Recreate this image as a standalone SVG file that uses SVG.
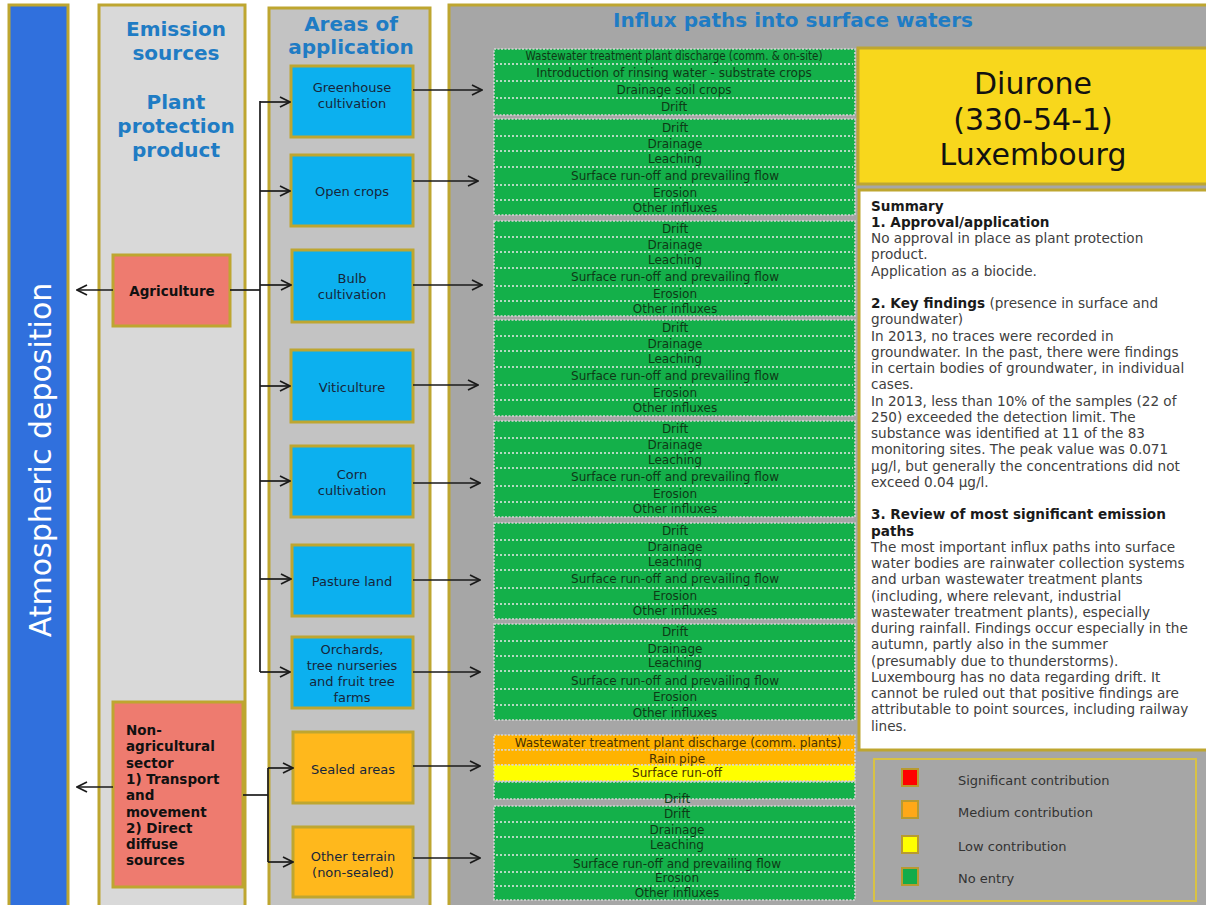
<svg xmlns="http://www.w3.org/2000/svg" width="1206" height="905" viewBox="0 0 1206 905">
<defs>
<style>
.olive{stroke:#bea630;stroke-width:3}
.title{font-family:"DejaVu Sans",Verdana,sans-serif;font-weight:bold;font-size:20px;fill:#1f7cc4;text-anchor:middle}
.boxt{font-family:"DejaVu Sans",Verdana,sans-serif;font-size:13px;fill:#17263a;text-anchor:middle}
.srct{font-family:"DejaVu Sans",Verdana,sans-serif;font-size:13.5px;font-weight:bold;fill:#111}
.blue{fill:#0cb0ef}
.orng{fill:#ffb81c}
.grp{fill:#14b04a;stroke:#d6d6d6;stroke-width:1.6;stroke-dasharray:2 1.5}
.grpo{fill:#ffb300;stroke:#d6d6d6;stroke-width:1.6;stroke-dasharray:2 1.5}
.grpy{fill:#ffff00;stroke:#d6d6d6;stroke-width:1.6;stroke-dasharray:2 1.5}
.sep{stroke:#e8e8e8;stroke-width:1.6;stroke-dasharray:2 2}
.bt{font-family:"DejaVu Sans",Verdana,sans-serif;font-size:12px;fill:#0e3a16;text-anchor:middle}
.bto{font-family:"DejaVu Sans",Verdana,sans-serif;font-size:12px;fill:#4a3200;text-anchor:middle}
.sum{font-family:"DejaVu Sans",Verdana,sans-serif;font-size:13.6px;fill:#404040}
.sum .h{font-weight:bold;fill:#1a1a1a}
.leg{font-family:"DejaVu Sans",Verdana,sans-serif;font-size:13px;fill:#333}
.con{fill:none;stroke:#1a1a1a;stroke-width:1.7}
</style>
<marker id="arr" viewBox="0 0 12 12" refX="11" refY="6" markerWidth="12" markerHeight="12" markerUnits="userSpaceOnUse" orient="auto">
<path d="M1,1 L11,6 L1,11" fill="none" stroke="#1a1a1a" stroke-width="1.7"/>
</marker>
</defs>

<rect x="0" y="0" width="1206" height="905" fill="#ffffff"/>

<g id="atmospheric-deposition">
<rect x="9" y="5" width="59" height="910" fill="#3070dd" class="olive"/>
<text transform="translate(51,460) rotate(-90)" font-family="DejaVu Sans,Verdana,sans-serif" font-size="30" fill="#ffffff" text-anchor="middle">Atmospheric deposition</text>
</g>

<g id="emission-sources">
<rect x="99" y="5" width="146" height="910" fill="#d9d9d9" class="olive"/>
<text class="title" x="176" y="36">Emission</text>
<text class="title" x="176" y="60">sources</text>
<text class="title" x="176" y="109">Plant</text>
<text class="title" x="176" y="133">protection</text>
<text class="title" x="176" y="157">product</text>
</g>

<g id="agriculture">
<rect x="113" y="255" width="117" height="71" fill="#ee7b6f" class="olive"/>
<text class="srct" x="172" y="296" text-anchor="middle" font-size="13px">Agriculture</text>
</g>

<g id="non-agricultural-sector">
<rect x="113" y="702" width="130" height="185" fill="#ee7b6f" class="olive"/>
<text class="srct" x="126" y="735">
<tspan x="126" dy="0">Non-</tspan>
<tspan x="126" dy="16.3">agricultural</tspan>
<tspan x="126" dy="16.3">sector</tspan>
<tspan x="126" dy="16.3">1) Transport</tspan>
<tspan x="126" dy="16.3">and</tspan>
<tspan x="126" dy="16.3">movement</tspan>
<tspan x="126" dy="16.3">2) Direct</tspan>
<tspan x="126" dy="16.3">diffuse</tspan>
<tspan x="126" dy="16.3">sources</tspan>
</text>
</g>

<g id="areas-of-application">
<rect x="269" y="8" width="161" height="907" fill="#c3c3c3" class="olive"/>
<text class="title" x="351" y="31">Areas of</text>
<text class="title" x="351" y="54">application</text>
</g>

<g id="greenhouse-cultivation">
<rect x="291" y="66" width="122" height="71" class="blue olive"/>
<text class="boxt" x="352" y="92">Greenhouse</text>
<text class="boxt" x="352" y="108">cultivation</text>
</g>
<g id="open-crops">
<rect x="291" y="155" width="122" height="71" class="blue olive"/>
<text class="boxt" x="352" y="196">Open crops</text>
</g>
<g id="bulb-cultivation">
<rect x="292" y="250" width="121" height="72" class="blue olive"/>
<text class="boxt" x="352" y="283">Bulb</text>
<text class="boxt" x="352" y="299">cultivation</text>
</g>
<g id="viticulture">
<rect x="291" y="350" width="122" height="72" class="blue olive"/>
<text class="boxt" x="352" y="392">Viticulture</text>
</g>
<g id="corn-cultivation">
<rect x="291" y="446" width="122" height="71" class="blue olive"/>
<text class="boxt" x="352" y="479">Corn</text>
<text class="boxt" x="352" y="495">cultivation</text>
</g>
<g id="pasture-land">
<rect x="292" y="545" width="121" height="71" class="blue olive"/>
<text class="boxt" x="352" y="586">Pasture land</text>
</g>
<g id="orchards">
<rect x="292" y="637" width="121" height="71" class="blue olive"/>
<text class="boxt" x="352" y="654">Orchards,</text>
<text class="boxt" x="352" y="670">tree nurseries</text>
<text class="boxt" x="352" y="686">and fruit tree</text>
<text class="boxt" x="352" y="702">farms</text>
</g>
<g id="sealed-areas">
<rect x="293" y="732" width="120" height="71" class="orng olive"/>
<text class="boxt" x="353" y="774" fill="#3a2a00">Sealed areas</text>
</g>
<g id="other-terrain">
<rect x="293" y="827" width="120" height="70" class="orng olive"/>
<text class="boxt" x="353" y="861">Other terrain</text>
<text class="boxt" x="353" y="877">(non-sealed)</text>
</g>

<g id="influx-paths">
<rect x="449" y="5" width="770" height="910" fill="#a6a6a6" class="olive"/>
<text class="title" x="793" y="27">Influx paths into surface waters</text>
</g>

<g id="paths-greenhouse">
<rect x="494" y="49" width="361" height="66" class="grp"/>
<line x1="496" y1="64" x2="853" y2="64" class="sep"/>
<line x1="496" y1="81" x2="853" y2="81" class="sep"/>
<line x1="496" y1="98" x2="853" y2="98" class="sep"/>
<text class="bt" x="674" y="60" font-size="10.5px" textLength="297" lengthAdjust="spacingAndGlyphs">Wastewater treatment plant discharge (comm. &amp; on-site)</text>
<text class="bt" x="674" y="77">Introduction of rinsing water - substrate crops</text>
<text class="bt" x="674" y="94">Drainage soil crops</text>
<text class="bt" x="674" y="111">Drift</text>
</g>

<g id="paths-open-crops">
<rect x="494" y="119" width="361" height="96" class="grp"/>
<line x1="496" y1="136" x2="853" y2="136" class="sep"/>
<line x1="496" y1="151" x2="853" y2="151" class="sep"/>
<line x1="496" y1="167" x2="853" y2="167" class="sep"/>
<line x1="496" y1="185" x2="853" y2="185" class="sep"/>
<line x1="496" y1="200" x2="853" y2="200" class="sep"/>
<text class="bt" x="675" y="132">Drift</text>
<text class="bt" x="675" y="148">Drainage</text>
<text class="bt" x="675" y="163">Leaching</text>
<text class="bt" x="675" y="180">Surface run-off and prevailing flow</text>
<text class="bt" x="675" y="197">Erosion</text>
<text class="bt" x="675" y="212">Other influxes</text>
</g>

<g id="paths-bulb">
<rect x="494" y="221" width="361" height="95" class="grp"/>
<line x1="496" y1="237" x2="853" y2="237" class="sep"/>
<line x1="496" y1="252" x2="853" y2="252" class="sep"/>
<line x1="496" y1="268" x2="853" y2="268" class="sep"/>
<line x1="496" y1="286" x2="853" y2="286" class="sep"/>
<line x1="496" y1="301" x2="853" y2="301" class="sep"/>
<text class="bt" x="675" y="233">Drift</text>
<text class="bt" x="675" y="249">Drainage</text>
<text class="bt" x="675" y="264">Leaching</text>
<text class="bt" x="675" y="281">Surface run-off and prevailing flow</text>
<text class="bt" x="675" y="298">Erosion</text>
<text class="bt" x="675" y="313">Other influxes</text>
</g>

<g id="paths-viticulture">
<rect x="494" y="320" width="361" height="96" class="grp"/>
<line x1="496" y1="336" x2="853" y2="336" class="sep"/>
<line x1="496" y1="351" x2="853" y2="351" class="sep"/>
<line x1="496" y1="367" x2="853" y2="367" class="sep"/>
<line x1="496" y1="385" x2="853" y2="385" class="sep"/>
<line x1="496" y1="400" x2="853" y2="400" class="sep"/>
<text class="bt" x="675" y="332">Drift</text>
<text class="bt" x="675" y="348">Drainage</text>
<text class="bt" x="675" y="363">Leaching</text>
<text class="bt" x="675" y="380">Surface run-off and prevailing flow</text>
<text class="bt" x="675" y="397">Erosion</text>
<text class="bt" x="675" y="412">Other influxes</text>
</g>

<g id="paths-corn">
<rect x="494" y="421" width="361" height="96" class="grp"/>
<line x1="496" y1="438" x2="853" y2="438" class="sep"/>
<line x1="496" y1="453" x2="853" y2="453" class="sep"/>
<line x1="496" y1="468" x2="853" y2="468" class="sep"/>
<line x1="496" y1="486" x2="853" y2="486" class="sep"/>
<line x1="496" y1="502" x2="853" y2="502" class="sep"/>
<text class="bt" x="675" y="433">Drift</text>
<text class="bt" x="675" y="449">Drainage</text>
<text class="bt" x="675" y="464">Leaching</text>
<text class="bt" x="675" y="481">Surface run-off and prevailing flow</text>
<text class="bt" x="675" y="498">Erosion</text>
<text class="bt" x="675" y="513">Other influxes</text>
</g>

<g id="paths-pasture">
<rect x="494" y="523" width="361" height="96" class="grp"/>
<line x1="496" y1="540" x2="853" y2="540" class="sep"/>
<line x1="496" y1="555" x2="853" y2="555" class="sep"/>
<line x1="496" y1="570" x2="853" y2="570" class="sep"/>
<line x1="496" y1="588" x2="853" y2="588" class="sep"/>
<line x1="496" y1="604" x2="853" y2="604" class="sep"/>
<text class="bt" x="675" y="535">Drift</text>
<text class="bt" x="675" y="551">Drainage</text>
<text class="bt" x="675" y="566">Leaching</text>
<text class="bt" x="675" y="583">Surface run-off and prevailing flow</text>
<text class="bt" x="675" y="600">Erosion</text>
<text class="bt" x="675" y="615">Other influxes</text>
</g>

<g id="paths-orchards">
<rect x="494" y="624" width="361" height="96" class="grp"/>
<line x1="496" y1="641" x2="853" y2="641" class="sep"/>
<line x1="496" y1="656" x2="853" y2="656" class="sep"/>
<line x1="496" y1="671" x2="853" y2="671" class="sep"/>
<line x1="496" y1="689" x2="853" y2="689" class="sep"/>
<line x1="496" y1="705" x2="853" y2="705" class="sep"/>
<text class="bt" x="675" y="636">Drift</text>
<text class="bt" x="675" y="653">Drainage</text>
<text class="bt" x="675" y="667">Leaching</text>
<text class="bt" x="675" y="685">Surface run-off and prevailing flow</text>
<text class="bt" x="675" y="701">Erosion</text>
<text class="bt" x="675" y="717">Other influxes</text>
</g>

<g id="paths-sealed">
<rect x="494" y="735" width="361" height="15" class="grpo"/>
<rect x="494" y="750" width="361" height="15" class="grpo"/>
<rect x="494" y="765" width="361" height="16" class="grpy"/>
<rect x="494" y="782" width="361" height="17" class="grp"/>
<text class="bto" x="678" y="747">Wastewater treatment plant discharge (comm. plants)</text>
<text class="bto" x="677" y="763">Rain pipe</text>
<text class="bto" x="677" y="777">Surface run-off</text>
<text class="bt" x="677" y="803">Drift</text>
</g>

<g id="paths-other-terrain">
<rect x="494" y="806" width="361" height="94" class="grp"/>
<line x1="496" y1="822" x2="853" y2="822" class="sep"/>
<line x1="496" y1="837" x2="853" y2="837" class="sep"/>
<line x1="496" y1="855" x2="853" y2="855" class="sep"/>
<line x1="496" y1="872" x2="853" y2="872" class="sep"/>
<line x1="496" y1="886" x2="853" y2="886" class="sep"/>
<text class="bt" x="677" y="818">Drift</text>
<text class="bt" x="677" y="834">Drainage</text>
<text class="bt" x="677" y="849">Leaching</text>
<text class="bt" x="677" y="868">Surface run-off and prevailing flow</text>
<text class="bt" x="677" y="882">Erosion</text>
<text class="bt" x="677" y="897">Other influxes</text>
</g>

<g id="diurone">
<rect x="858" y="48" width="352" height="136" fill="#f8d71c" class="olive"/>
<text x="1033" y="94" font-family="DejaVu Sans,Verdana,sans-serif" font-size="30" fill="#111" text-anchor="middle">Diurone</text>
<text x="1033" y="130" font-family="DejaVu Sans,Verdana,sans-serif" font-size="30" fill="#111" text-anchor="middle">(330-54-1)</text>
<text x="1033" y="165" font-family="DejaVu Sans,Verdana,sans-serif" font-size="30" fill="#111" text-anchor="middle">Luxembourg</text>
</g>

<g id="summary">
<rect x="859" y="190" width="352" height="560" fill="#ffffff" class="olive"/>
<text class="sum" x="871" y="210.5">
<tspan x="871" dy="0" class="h">Summary</tspan>
<tspan x="871" dy="16.25" class="h">1. Approval/application</tspan>
<tspan x="871" dy="16.25">No approval in place as plant protection</tspan>
<tspan x="871" dy="16.25">product.</tspan>
<tspan x="871" dy="16.25">Application as a biocide.</tspan>
<tspan x="871" dy="32.5" class="h">2. Key findings</tspan><tspan> (presence in surface and</tspan>
<tspan x="871" dy="16.25">groundwater)</tspan>
<tspan x="871" dy="16.25">In 2013, no traces were recorded in</tspan>
<tspan x="871" dy="16.25">groundwater. In the past, there were findings</tspan>
<tspan x="871" dy="16.25">in certain bodies of groundwater, in individual</tspan>
<tspan x="871" dy="16.25">cases.</tspan>
<tspan x="871" dy="16.25">In 2013, less than 10% of the samples (22 of</tspan>
<tspan x="871" dy="16.25">250) exceeded the detection limit. The</tspan>
<tspan x="871" dy="16.25">substance was identified at 11 of the 83</tspan>
<tspan x="871" dy="16.25">monitoring sites. The peak value was 0.071</tspan>
<tspan x="871" dy="16.25">µg/l, but generally the concentrations did not</tspan>
<tspan x="871" dy="16.25">exceed 0.04 µg/l.</tspan>
<tspan x="871" dy="32.5" class="h">3. Review of most significant emission</tspan>
<tspan x="871" dy="16.25" class="h">paths</tspan>
<tspan x="871" dy="16.25">The most important influx paths into surface</tspan>
<tspan x="871" dy="16.25">water bodies are rainwater collection systems</tspan>
<tspan x="871" dy="16.25">and urban wastewater treatment plants</tspan>
<tspan x="871" dy="16.25">(including, where relevant, industrial</tspan>
<tspan x="871" dy="16.25">wastewater treatment plants), especially</tspan>
<tspan x="871" dy="16.25">during rainfall. Findings occur especially in the</tspan>
<tspan x="871" dy="16.25">autumn, partly also in the summer</tspan>
<tspan x="871" dy="16.25">(presumably due to thunderstorms).</tspan>
<tspan x="871" dy="16.25">Luxembourg has no data regarding drift. It</tspan>
<tspan x="871" dy="16.25">cannot be ruled out that positive findings are</tspan>
<tspan x="871" dy="16.25">attributable to point sources, including railway</tspan>
<tspan x="871" dy="16.25">lines.</tspan>
</text>
</g>

<g id="legend">
<rect x="874" y="759" width="322" height="142" fill="none" stroke="#d8c244" stroke-width="2"/>
<rect x="902" y="769" width="16" height="17" fill="#ff0000" stroke="#b89a30" stroke-width="2"/>
<rect x="902" y="801" width="16" height="17" fill="#ffa818" stroke="#b89a30" stroke-width="2"/>
<rect x="902" y="836" width="16" height="17" fill="#ffff00" stroke="#b89a30" stroke-width="2"/>
<rect x="902" y="868" width="16" height="17" fill="#14ac4a" stroke="#b89a30" stroke-width="2"/>
<text class="leg" x="958" y="785">Significant contribution</text>
<text class="leg" x="958" y="817">Medium contribution</text>
<text class="leg" x="958" y="851">Low contribution</text>
<text class="leg" x="958" y="883">No entry</text>
</g>

<g id="connectors">
<line class="con" x1="113" y1="290" x2="77" y2="290" marker-end="url(#arr)"/>
<polyline class="con" points="230,290 260,290"/>
<line class="con" x1="260" y1="101" x2="260" y2="672"/>
<line class="con" x1="260" y1="102" x2="290" y2="102" marker-end="url(#arr)"/>
<line class="con" x1="260" y1="191" x2="290" y2="191" marker-end="url(#arr)"/>
<line class="con" x1="260" y1="285" x2="291" y2="285" marker-end="url(#arr)"/>
<line class="con" x1="260" y1="386" x2="290" y2="386" marker-end="url(#arr)"/>
<line class="con" x1="260" y1="481" x2="290" y2="481" marker-end="url(#arr)"/>
<line class="con" x1="260" y1="579" x2="291" y2="579" marker-end="url(#arr)"/>
<line class="con" x1="260" y1="672" x2="290" y2="672" marker-end="url(#arr)"/>
<line class="con" x1="113" y1="787" x2="77" y2="787" marker-end="url(#arr)"/>
<polyline class="con" points="243,795 268,795"/>
<line class="con" x1="268" y1="768" x2="268" y2="862"/>
<line class="con" x1="268" y1="768" x2="293" y2="768" marker-end="url(#arr)"/>
<line class="con" x1="268" y1="862" x2="293" y2="862" marker-end="url(#arr)"/>
<line class="con" x1="413" y1="90" x2="482" y2="90" marker-end="url(#arr)"/>
<line class="con" x1="413" y1="181" x2="478" y2="181" marker-end="url(#arr)"/>
<line class="con" x1="413" y1="285" x2="482" y2="285" marker-end="url(#arr)"/>
<line class="con" x1="413" y1="385" x2="478" y2="385" marker-end="url(#arr)"/>
<line class="con" x1="413" y1="483" x2="480" y2="483" marker-end="url(#arr)"/>
<line class="con" x1="413" y1="580" x2="480" y2="580" marker-end="url(#arr)"/>
<line class="con" x1="413" y1="672" x2="480" y2="672" marker-end="url(#arr)"/>
<line class="con" x1="413" y1="766" x2="480" y2="766" marker-end="url(#arr)"/>
<line class="con" x1="413" y1="858" x2="480" y2="858" marker-end="url(#arr)"/>
</g>
</svg>
